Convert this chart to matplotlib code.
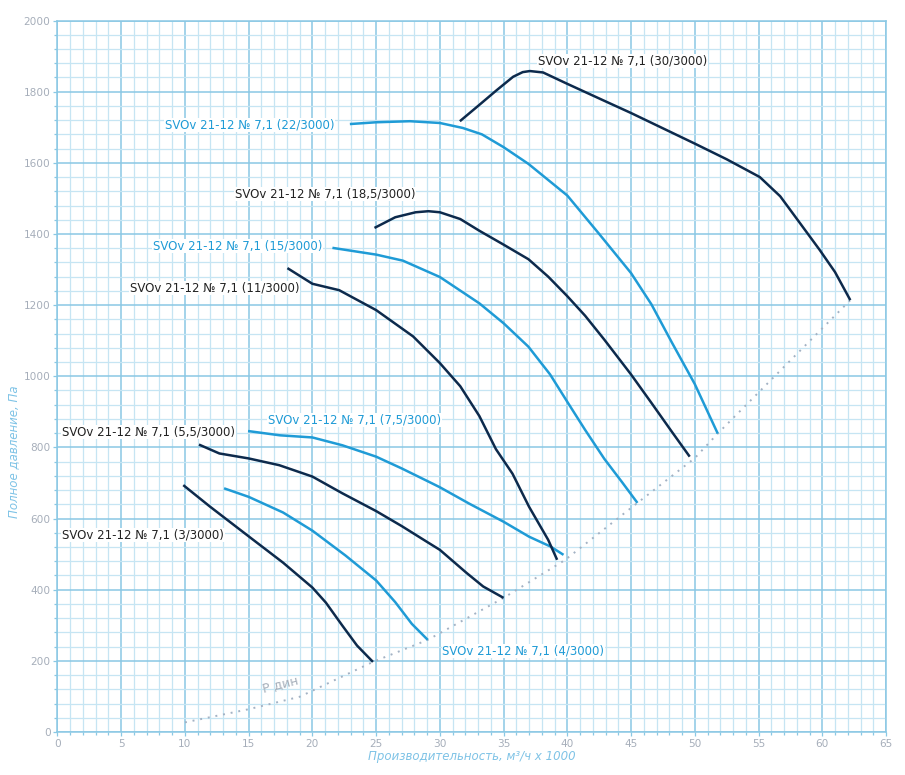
import numpy as np
import matplotlib
matplotlib.use("Agg")
import matplotlib.pyplot as plt
from matplotlib.ticker import MultipleLocator

plt.rcParams['font.family'] = ['DejaVu Sans']

DARK = '#0d2a4c'
LIGHT = '#1f9bd6'
GRID_MAJ = '#8ac8e4'
GRID_MIN = '#c6e5f3'
TICK_TXT = '#a6aeba'
AXLAB = '#7fc3e6'

# fan curves (x: m3/h x 1000, y: Pa)
x_3 = [9.87, 11.95, 15, 17.7, 20, 21.05, 22.35, 23.5, 24.75]
y_3 = [694, 634, 550, 476, 406, 364, 299, 243, 197]

x_4 = [13.07, 15, 17.7, 20, 22.6, 25, 26.5, 27.8, 29.05]
y_4 = [685, 661, 617, 566, 496, 426, 365, 304, 259]

x_55 = [11.1, 12.7, 15, 17.4, 20, 22.35, 25, 27, 29.1, 30, 32.1, 33.4, 35]
y_55 = [808, 783, 769, 750, 718, 671, 621, 579, 532, 512, 447, 409, 377]

x_75 = [14.95, 17.45, 20, 22.35, 25, 27, 29.1, 30, 32.3, 35, 37, 38.7, 39.7]
y_75 = [846, 834, 828, 806, 774, 741, 704, 688, 642, 591, 549, 521, 498]

x_11 = [18.04, 20, 22.1, 25, 27.9, 30, 31.6, 33.1, 34.4, 35.7, 37, 38.5, 39.2]
y_11 = [1304, 1260, 1242, 1186, 1112, 1037, 972, 888, 795, 726, 633, 540, 484]

x_15 = [21.57, 25, 27.1, 30, 33.1, 35, 36.95, 38.65, 40, 41.4, 42.9, 44.3, 45.5]
y_15 = [1361, 1342, 1325, 1279, 1205, 1149, 1083, 1005, 928, 849, 768, 702, 644]

x_185 = [24.87, 26.5, 28.1, 29.1, 30, 31.6, 33.1, 35, 36.95, 38.5, 40, 41.4, 42.9, 45, 46.6, 48.2, 49.6]
y_185 = [1417, 1447, 1461, 1464, 1461, 1442, 1409, 1370, 1329, 1280, 1225, 1170, 1103, 1005, 925, 844, 774]

x_22 = [22.94, 25, 27.65, 30, 31.8, 33.3, 35, 36.95, 40, 42.5, 45, 46.6, 48.2, 50, 51.8]
y_22 = [1709, 1714, 1717, 1712, 1698, 1680, 1644, 1597, 1508, 1400, 1290, 1202, 1095, 978, 839]

x_30 = [31.57, 33, 34.45, 35.75, 36.5, 37.06, 38.1, 40, 42.8, 45, 47.5, 50, 52.5, 55.1, 56.7, 58.2, 59.8, 61.0, 62.2]
y_30 = [1717, 1760, 1804, 1842, 1855, 1858, 1854, 1822, 1776, 1740, 1697, 1654, 1610, 1560, 1506, 1433, 1355, 1293, 1214]

# dynamic pressure line
x_pd = [10, 15, 19, 24.75, 29.05, 35, 39.8, 45.5, 50, 51.8, 62.2]
y_pd = [27, 64, 99, 197, 259, 377, 483, 644, 770, 839, 1214]

curves = [
    (x_3, y_3, DARK, 'SVOv 21-12 № 7,1 (3/3000)', 0.35, 554),
    (x_4, y_4, LIGHT, 'SVOv 21-12 № 7,1 (4/3000)', 30.2, 228),
    (x_55, y_55, DARK, 'SVOv 21-12 № 7,1 (5,5/3000)', 0.35, 843),
    (x_75, y_75, LIGHT, 'SVOv 21-12 № 7,1 (7,5/3000)', 16.5, 877),
    (x_11, y_11, DARK, 'SVOv 21-12 № 7,1 (11/3000)', 5.69, 1248),
    (x_15, y_15, LIGHT, 'SVOv 21-12 № 7,1 (15/3000)', 7.49, 1366),
    (x_185, y_185, DARK, 'SVOv 21-12 № 7,1 (18,5/3000)', 13.92, 1512),
    (x_22, y_22, LIGHT, 'SVOv 21-12 № 7,1 (22/3000)', 8.43, 1706),
    (x_30, y_30, DARK, 'SVOv 21-12 № 7,1 (30/3000)', 37.7, 1886),
]

fig = plt.figure(figsize=(9.05, 7.75), dpi=100)
ax = fig.add_axes([0.0635, 0.0555, 0.9155, 0.918])

ax.set_xlim(0, 65)
ax.set_ylim(0, 2000)
ax.xaxis.set_major_locator(MultipleLocator(5))
ax.xaxis.set_minor_locator(MultipleLocator(1))
ax.yaxis.set_major_locator(MultipleLocator(200))
ax.yaxis.set_minor_locator(MultipleLocator(40))
ax.grid(which='minor', color=GRID_MIN, linewidth=0.9)
ax.grid(which='major', color=GRID_MAJ, linewidth=1.1)
ax.set_axisbelow(True)
for s in ax.spines.values():
    s.set_color(GRID_MAJ)
    s.set_linewidth(1.1)
ax.tick_params(which='both', direction='out', color=GRID_MAJ, labelcolor=TICK_TXT,
               labelsize=7.6, length=3, width=0.9, pad=2)
ax.tick_params(which='minor', length=2)

ax.plot(x_pd, y_pd, color='#a3b2c4', linestyle=(0, (1, 3)), linewidth=1.4)
ax.text(16.0, 105, 'Р дин', color='#a7b0bb', fontsize=9, rotation=14,
        ha='left', va='bottom')

for xs, ys, col, lab, lx, ly in curves:
    ax.plot(xs, ys, color=col, linewidth=1.8, solid_capstyle='butt',
            solid_joinstyle='round')
    ax.text(lx, ly, lab, color=('#222222' if col == DARK else LIGHT),
            fontsize=8.5, ha='left', va='center',
            bbox=dict(facecolor='white', edgecolor='none', pad=0.5))

ax.set_xlabel('Производительность, м³/ч x 1000', color=AXLAB, fontsize=8.5,
              style='italic', labelpad=1)
ax.set_ylabel('Полное давление, Па', color=AXLAB, fontsize=8.5, style='italic')
ax.yaxis.set_label_coords(-0.045, 0.394)

fig.savefig('out.png', dpi=100, facecolor='white')
